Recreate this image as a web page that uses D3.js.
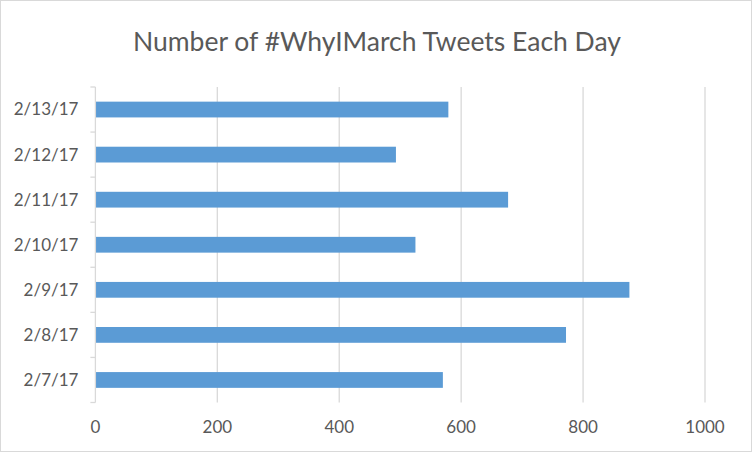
<!DOCTYPE html>
<html><head><meta charset="utf-8">
<script src="https://cdn.jsdelivr.net/npm/d3@7"></script>
<style>body{margin:0;background:#fff;} svg{display:block;font-family:Lato, "Open Sans", sans-serif;}</style>
</head><body>
<svg id="c" width="752" height="452"></svg>
<script>
const categories = ["2/7/17","2/8/17","2/9/17","2/10/17","2/11/17","2/12/17","2/13/17"];
const values = [570, 772, 876, 525, 677, 493, 579];
const xTicks = [0,200,400,600,800,1000];
const title = "Number of #WhyIMarch Tweets Each Day";

const svg = d3.select("#c");
const W = 752, H = 452;
const m = {left:95.4, right:W-705, top:87, bottom:H-402.5};

svg.append("rect").attr("x",0.5).attr("y",0.5).attr("width",W-1).attr("height",H-1)
  .attr("fill","#fff").attr("stroke","#d9d9d9");

const x = d3.scaleLinear().domain([0,1000]).range([m.left, W-m.right]);
const y = d3.scaleBand().domain(categories.slice().reverse()).range([m.top, H-m.bottom]).paddingInner(0.65).paddingOuter(0.325);

// gridlines
svg.append("g").selectAll("line").data(xTicks.slice(1)).join("line")
  .attr("x1",d=>x(d)).attr("x2",d=>x(d)).attr("y1",m.top).attr("y2",H-m.bottom)
  .attr("stroke","#d9d9d9").attr("stroke-width",1.3);

// bars
svg.append("g").selectAll("rect").data(categories).join("rect")
  .attr("x",x(0)).attr("y",(d)=>y(d))
  .attr("width",(d,i)=>x(values[i])-x(0)).attr("height",y.bandwidth())
  .attr("fill","#5b9bd5");

// y axis
const band = d3.scaleBand().domain(categories.slice().reverse()).range([m.top, H-m.bottom]);
const gy = svg.append("g").attr("transform",`translate(${m.left},0)`);
gy.append("line").attr("x1",0).attr("x2",0).attr("y1",m.top).attr("y2",H-m.bottom).attr("stroke","#d9d9d9").attr("stroke-width",1.3);
const bounds = band.domain().map(d=>band(d)).concat([H-m.bottom]);
gy.selectAll("line.t").data(bounds).join("line").attr("class","t")
  .attr("x1",-5).attr("x2",0).attr("y1",d=>d).attr("y2",d=>d).attr("stroke","#d9d9d9").attr("stroke-width",1.3);
gy.selectAll("text").data(categories).join("text")
  .attr("x",-17).attr("y",d=>band(d)+band.bandwidth()/2).attr("dy","0.35em")
  .attr("text-anchor","end").attr("fill","#595959").attr("font-size",17).text(d=>d);

// x labels
svg.append("g").selectAll("text").data(xTicks).join("text")
  .attr("x",d=>x(d)).attr("y",427).attr("dy","0.35em").attr("text-anchor","middle")
  .attr("fill","#595959").attr("font-size",17).text(d=>d);

svg.append("text").attr("x",377).attr("y",42).attr("dy","0.35em").attr("text-anchor","middle")
  .attr("fill","#595959").attr("font-size",26.5).text(title);
</script>
</body></html>
